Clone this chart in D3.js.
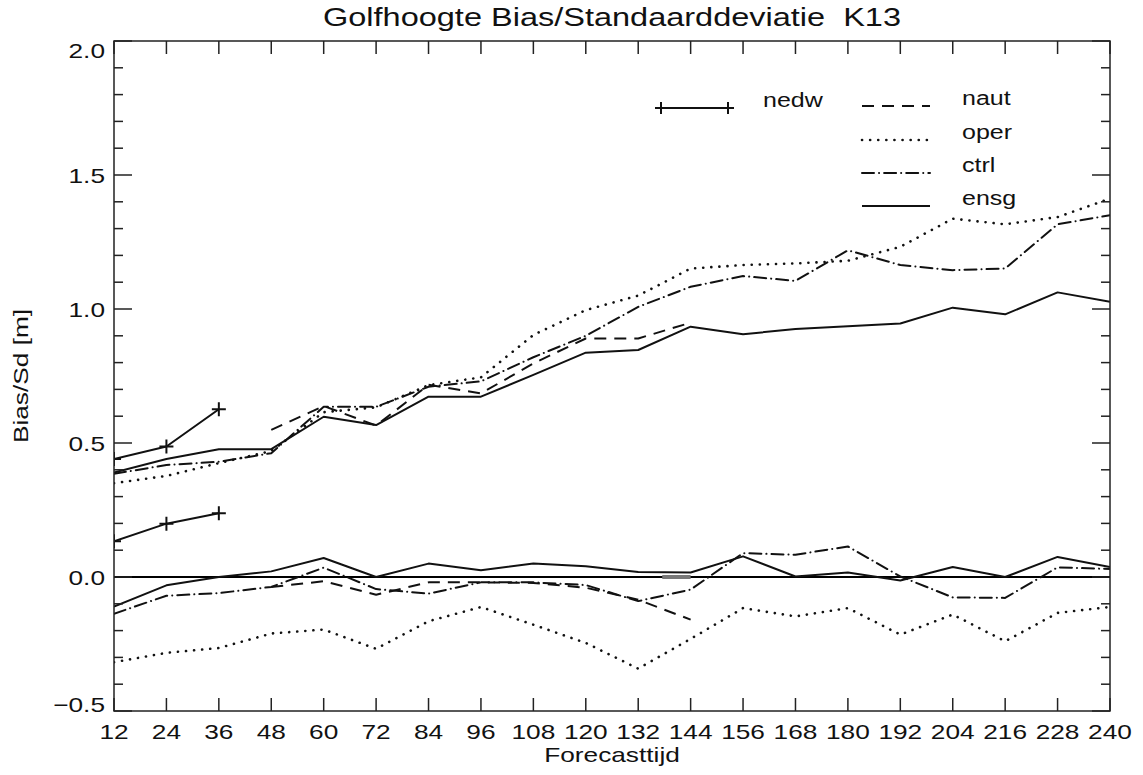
<!DOCTYPE html>
<html>
<head>
<meta charset="utf-8">
<script src="https://cdn.jsdelivr.net/npm/d3@7"></script>
<style>
  html, body { margin: 0; padding: 0; background: #fff; }
  svg { display: block; }
  text { font-family: "Liberation Sans", Arial, Helvetica, sans-serif; fill: #111; }
</style>
</head>
<body>
<svg id="chart" width="1143" height="775"></svg>
<script>
// Forecast lead times (hours)
const leadTimes = [12, 24, 36, 48, 60, 72, 84, 96, 108, 120, 132, 144, 156, 168, 180, 192, 204, 216, 228, 240];
const naut_leadTimes = [48, 60, 72, 84, 96, 108, 120, 132, 144];
const nedw_leadTimes = [12, 24, 36];

// Standard deviation (upper group) per model run
const ensg_sd = [0.39, 0.44, 0.477, 0.477, 0.598, 0.567, 0.673, 0.673, 0.754, 0.837, 0.847, 0.934, 0.906, 0.925, 0.936, 0.946, 1.005, 0.98, 1.062, 1.027];
const ctrl_sd = [0.385, 0.418, 0.43, 0.462, 0.635, 0.635, 0.71, 0.73, 0.82, 0.9, 1.008, 1.083, 1.123, 1.105, 1.219, 1.164, 1.145, 1.151, 1.316, 1.35];
const oper_sd = [0.35, 0.377, 0.425, 0.47, 0.615, 0.633, 0.716, 0.745, 0.903, 0.996, 1.05, 1.151, 1.164, 1.17, 1.18, 1.232, 1.337, 1.316, 1.343, 1.412];
const naut_sd = [0.549, 0.638, 0.565, 0.717, 0.685, 0.797, 0.89, 0.89, 0.949];
const nedw_sd = [0.44, 0.487, 0.626];

// Bias (lower group) per model run
const ensg_bias = [-0.11, -0.031, 0.0, 0.021, 0.071, 0.0, 0.05, 0.025, 0.05, 0.04, 0.019, 0.017, 0.077, 0.002, 0.017, -0.013, 0.037, 0.0, 0.075, 0.037];
const ctrl_bias = [-0.137, -0.07, -0.06, -0.037, 0.035, -0.045, -0.062, -0.02, -0.02, -0.03, -0.09, -0.047, 0.089, 0.083, 0.114, 0.002, -0.076, -0.078, 0.036, 0.03];
const oper_bias = [-0.318, -0.283, -0.265, -0.211, -0.196, -0.268, -0.165, -0.112, -0.178, -0.246, -0.342, -0.231, -0.116, -0.147, -0.116, -0.215, -0.14, -0.24, -0.134, -0.112];
const naut_bias = [-0.037, -0.016, -0.066, -0.02, -0.02, -0.022, -0.04, -0.085, -0.159];
const nedw_bias = [0.133, 0.199, 0.238];

// Axis ticks
const yMajorTicks = [-0.5, 0.0, 0.5, 1.0, 1.5, 2.0];
const yMinorTicks = d3.range(-5, 21).map(i => i / 10);

const titleText = "Golfhoogte Bias/Standaarddeviatie\u00a0\u00a0K13";
const xTitle = "Forecasttijd";
const yTitle = "Bias/Sd [m]";
const legendNames = ["naut", "oper", "ctrl", "ensg"];

// Line styles per run
const styles = {
  naut: { dash: "12 8", cap: "butt", w: 2 },
  oper: { dash: "0.1 8", cap: "round", w: 2.6 },
  ctrl: { dash: "12 5 0.1 5", cap: "round", w: 2 },
  ensg: { dash: null, cap: "butt", w: 2 },
  nedw: { dash: null, cap: "butt", w: 2 }
};

const svg = d3.select("#chart");
const plotLeft = 114, plotRight = 1110, plotTop = 41, plotBottom = 711;

const x = d3.scaleLinear().domain([12, 240]).range([plotLeft, plotRight]);
const y = d3.scaleLinear().domain([-0.5, 2.0]).range([plotBottom, plotTop]);

// Wide lettering: glyphs are stretched along the baseline
const STRETCH = 1.25;
function label(g, px, py, str, size, anchor, angle) {
  return g.append("text")
    .attr("transform", `translate(${px},${py}) rotate(${angle || 0}) scale(${STRETCH},1)`)
    .attr("text-anchor", anchor || "start")
    .attr("font-size", size)
    .text(str);
}

// Data marks are clipped to the plotting frame
svg.append("defs").append("clipPath").attr("id", "frame-clip")
  .append("rect")
  .attr("x", plotLeft).attr("y", plotTop)
  .attr("width", plotRight - plotLeft).attr("height", plotBottom - plotTop);

const plot = svg.append("g").attr("clip-path", "url(#frame-clip)");

// Zero line
plot.append("line")
  .attr("x1", x(12)).attr("x2", x(240))
  .attr("y1", y(0)).attr("y2", y(0))
  .attr("stroke", "#000").attr("stroke-width", 2);

// Short grey band sitting on the zero line
plot.append("line")
  .attr("x1", x(137.5)).attr("x2", x(144))
  .attr("y1", y(0)).attr("y2", y(0))
  .attr("stroke", "#777").attr("stroke-width", 4);

const line = d3.line().x(d => x(d[0])).y(d => y(d[1]));

function drawSeries(times, values, key) {
  const s = styles[key];
  const p = plot.append("path")
    .datum(d3.zip(times, values))
    .attr("d", line)
    .attr("fill", "none")
    .attr("stroke", "#111")
    .attr("stroke-width", s.w)
    .attr("stroke-linejoin", "round")
    .attr("stroke-linecap", s.cap);
  if (s.dash) p.attr("stroke-dasharray", s.dash);
}

drawSeries(leadTimes, oper_sd, "oper");
drawSeries(leadTimes, oper_bias, "oper");
drawSeries(naut_leadTimes, naut_sd, "naut");
drawSeries(naut_leadTimes, naut_bias, "naut");
drawSeries(leadTimes, ctrl_sd, "ctrl");
drawSeries(leadTimes, ctrl_bias, "ctrl");
drawSeries(leadTimes, ensg_sd, "ensg");
drawSeries(leadTimes, ensg_bias, "ensg");
drawSeries(nedw_leadTimes, nedw_sd, "nedw");
drawSeries(nedw_leadTimes, nedw_bias, "nedw");

// Plus markers
function plus(g, cx, cy, h) {
  g.append("path")
    .attr("d", `M${cx - h},${cy}H${cx + h}M${cx},${cy - h}V${cy + h}`)
    .attr("stroke", "#111").attr("stroke-width", 2).attr("fill", "none");
}
[nedw_sd, nedw_bias].forEach(vals => {
  vals.forEach((v, i) => plus(plot, x(nedw_leadTimes[i]), y(v), 7));
});

// Frame and ticks
const axes = svg.append("g").attr("stroke", "#222").attr("stroke-width", 1.5);
axes.append("rect")
  .attr("x", plotLeft).attr("y", plotTop)
  .attr("width", plotRight - plotLeft).attr("height", plotBottom - plotTop)
  .attr("fill", "none");

leadTimes.forEach(t => {
  axes.append("line").attr("x1", x(t)).attr("x2", x(t)).attr("y1", plotBottom).attr("y2", plotBottom - 13);
  axes.append("line").attr("x1", x(t)).attr("x2", x(t)).attr("y1", plotTop).attr("y2", plotTop + 13);
});
yMinorTicks.forEach(v => {
  const major = yMajorTicks.some(m => Math.abs(m - v) < 1e-9);
  const len = major ? 18 : 9;
  axes.append("line").attr("x1", plotLeft).attr("x2", plotLeft + len).attr("y1", y(v)).attr("y2", y(v));
  axes.append("line").attr("x1", plotRight).attr("x2", plotRight - len).attr("y1", y(v)).attr("y2", y(v));
});

// Tick labels
const txt = svg.append("g");
leadTimes.forEach(t => {
  label(txt, x(t), plotBottom + 28, t, 21, "middle");
});
yMajorTicks.forEach(v => {
  let cy = y(v);
  cy = Math.max(cy, plotTop + 9);
  cy = Math.min(cy, plotBottom - 7);
  label(txt, plotLeft - 9, cy + 8, d3.format(".1f")(v), 21, "end");
});

// Titles
label(txt, (plotLeft + plotRight) / 2, 26, titleText, 26, "middle");
label(txt, (plotLeft + plotRight) / 2, 762, xTitle, 21, "middle");
label(txt, 28, (plotTop + plotBottom) / 2, yTitle, 21, "middle", -90);

// Legend
const lg = svg.append("g");
lg.append("line").attr("x1", 661).attr("x2", 728).attr("y1", 108).attr("y2", 108)
  .attr("stroke", "#111").attr("stroke-width", 2);
plus(lg, 661, 108, 6);
plus(lg, 728, 108, 6);
label(lg, 763, 107, "nedw", 20);

const legendRowY = [106, 140, 173, 206];
legendNames.forEach((name, i) => {
  const s = styles[name];
  const l = lg.append("line")
    .attr("x1", 862).attr("x2", 930)
    .attr("y1", legendRowY[i]).attr("y2", legendRowY[i])
    .attr("stroke", "#111").attr("stroke-width", s.w)
    .attr("stroke-linecap", s.cap);
  if (s.dash) l.attr("stroke-dasharray", s.dash);
  label(lg, 962, legendRowY[i] - 1, name, 20);
});
</script>
</body>
</html>
